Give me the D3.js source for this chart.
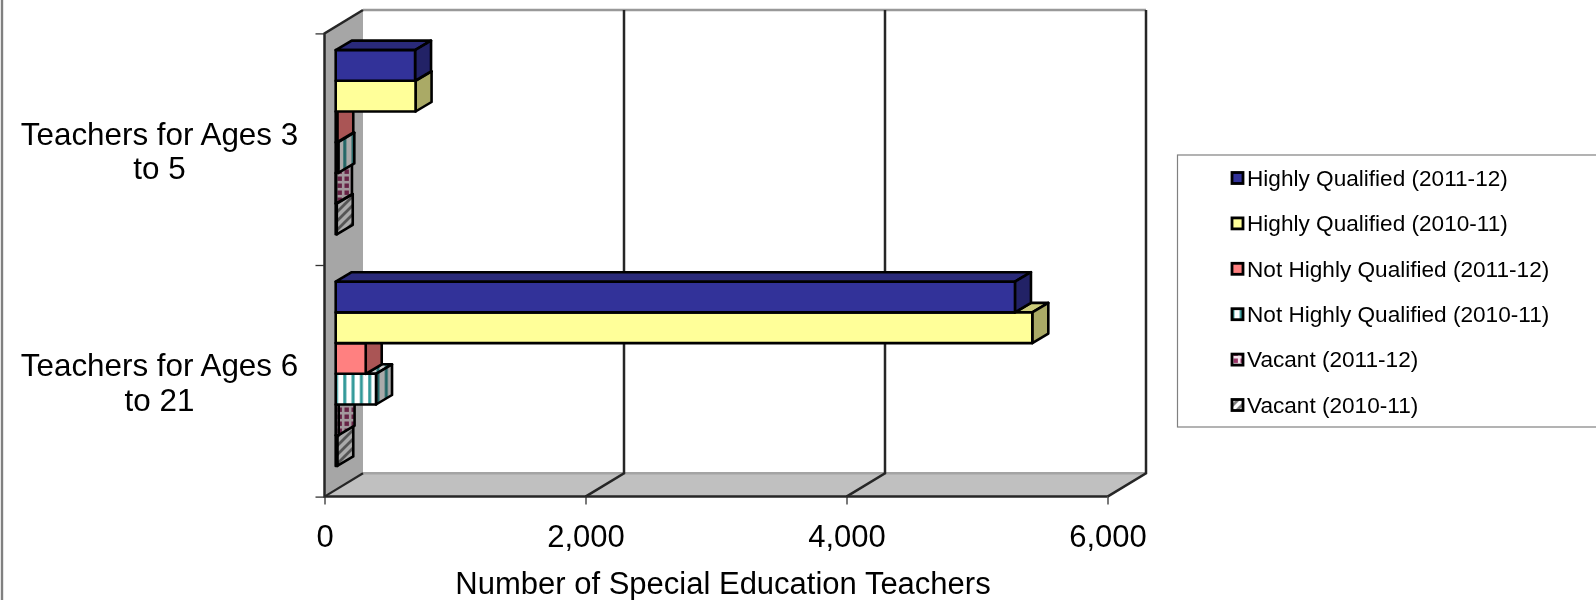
<!DOCTYPE html>
<html><head><meta charset="utf-8">
<script src="https://cdn.jsdelivr.net/npm/d3@7"></script>
<style>html,body{margin:0;padding:0;background:#fff;overflow:hidden}svg{display:block}text{font-family:"Liberation Sans",Arial,sans-serif;fill:#000}</style>
</head><body><svg id="c" width="1596" height="600"></svg>
<script>
const categories = ["Teachers for Ages 3 to 5", "Teachers for Ages 6 to 21"];
const categoryLines = [["Teachers for Ages 3", "to 5"], ["Teachers for Ages 6", "to 21"]];
const seriesNames = ["Highly Qualified (2011-12)", "Highly Qualified (2010-11)", "Not Highly Qualified (2011-12)", "Not Highly Qualified (2010-11)", "Vacant (2011-12)", "Vacant (2010-11)"];
const hq1112 = [608, 5205];
const hq1011 = [612, 5338];
const nhq1112 = [12, 230];
const nhq1011 = [20, 309];
const vac1112 = [2, 22];
const vac1011 = [8, 12];
const seriesValues = [hq1112, hq1011, nhq1112, nhq1011, vac1112, vac1011];
const valueTicks = [0, 2000, 4000, 6000];
const axisTitle = "Number of Special Education Teachers";

const svg = d3.select("#c");
const defs = svg.append("defs");
defs.append("filter").attr("id","soft").attr("x","-2%").attr("y","-2%").attr("width","104%").attr("height","104%")
  .append("feGaussianBlur").attr("stdDeviation",0.45);

// layout of the 3D box
const wallDX = 38.5, wallDY = -23.4;
const barDX = 16, barDY = -9.5, barOffX = 11.2, barOffY = -7;
const x = d3.scaleLinear().domain([0, 6000]).range([324.5, 1107.5]);
const yCat = d3.scaleBand().domain(categories).range([33.4, 496.6]);
const ySer = d3.scaleBand().domain(seriesNames).range([23.7, 207.9]);

// patterns
function pat(id, w, h, bg, draw) {
  const p = defs.append("pattern").attr("id", id).attr("patternUnits","userSpaceOnUse").attr("width",w).attr("height",h);
  p.append("rect").attr("width",w).attr("height",h).attr("fill",bg);
  draw(p);
}
[["", 1], ["Side", 2/3], ["Top", 0.8]].forEach(([suf, k]) => {
  const c = v => { const r = d3.rgb(v); return d3.rgb(r.r*k, r.g*k, r.b*k).formatHex(); };
  pat("teal"+suf, 8.3, 8, c("#ffffff"), p => p.append("rect").attr("x",3).attr("width",3).attr("height",8).attr("fill",c("#339999")));
  pat("purple"+suf, 7, 7, c("#f4e4ec"), p => p.append("rect").attr("x",1.5).attr("y",1.5).attr("width",4.4).attr("height",4.4).attr("fill",c("#993366")));
  pat("hatch"+suf, 9, 9, c("#ffffff"), p => p.append("path").attr("d","M-2,2L2,-2M-2,11L11,-2M7,11L11,7").attr("stroke",c("#808080")).attr("stroke-width",2.8));
});
const faces = [
  {front:"#333399", side:"#222266", top:"#29297a"},
  {front:"#FFFF99", side:"#AAAA66", top:"#CCCC7a"},
  {front:"#FF8080", side:"#AA5555", top:"#CC6666"},
  {front:"url(#teal)", side:"url(#tealSide)", top:"url(#tealTop)"},
  {front:"url(#purple)", side:"url(#purpleSide)", top:"url(#purpleTop)"},
  {front:"url(#hatch)", side:"url(#hatchSide)", top:"url(#hatchTop)"}
];

const g = svg.append("g").attr("filter","url(#soft)");

// outer frame
g.append("line").attr("x1",2).attr("x2",2).attr("y1",0).attr("y2",600).attr("stroke","#808080").attr("stroke-width",2.4);

// walls
const yBottom = yCat.range()[1], yTop = yCat.range()[0];
const x0 = x(0), x1 = x(6000);
const poly = pts => "M" + pts.map(p => p.join(",")).join("L") + "Z";
g.append("path").attr("d", poly([[x0+wallDX,yTop+wallDY],[x1+wallDX,yTop+wallDY],[x1+wallDX,yBottom+wallDY],[x0+wallDX,yBottom+wallDY]])).attr("fill","#fff");
g.append("path").attr("d", poly([[x0,yBottom],[x1,yBottom],[x1+wallDX,yBottom+wallDY],[x0+wallDX,yBottom+wallDY]])).attr("fill","#C0C0C0");
g.append("path").attr("d", poly([[x0,yTop],[x0+wallDX,yTop+wallDY],[x0+wallDX,yBottom+wallDY],[x0,yBottom]])).attr("fill","#A6A6A6");
g.append("line").attr("x1",x0+wallDX).attr("x2",x1+wallDX).attr("y1",yTop+wallDY).attr("y2",yTop+wallDY).attr("stroke","#999").attr("stroke-width",2.6);
g.append("line").attr("x1",x0+wallDX).attr("x2",x1+wallDX).attr("y1",yBottom+wallDY).attr("y2",yBottom+wallDY).attr("stroke","#a4a4a4").attr("stroke-width",2.4);
// gridlines across back wall and floor
valueTicks.slice(1).forEach(v => {
  g.append("path").attr("fill","none").attr("stroke","#262626").attr("stroke-width",2.5)
   .attr("d", `M${x(v)},${yBottom}L${x(v)+wallDX},${yBottom+wallDY}L${x(v)+wallDX},${yTop+wallDY}`);
});
g.append("path").attr("fill","none").attr("stroke","#262626").attr("stroke-width",2.2)
 .attr("d", `M${x0},${yBottom}L${x0+wallDX},${yBottom+wallDY}`);
g.append("path").attr("fill","none").attr("stroke","#262626").attr("stroke-width",2.5)
 .attr("d", `M${x0+wallDX},${yTop+wallDY}L${x0},${yTop}L${x0},${yBottom}L${x1},${yBottom}`);

// axes
const axB = g.append("g").attr("transform",`translate(0,${yBottom})`)
  .call(d3.axisBottom(x).tickValues(valueTicks).tickFormat(d3.format(",")).tickSize(8).tickPadding(20));
axB.select(".domain").remove();
axB.selectAll("line").attr("stroke","#333").attr("stroke-width",1.3);
axB.selectAll("text").style("font-family",'"Liberation Sans",Arial,sans-serif').style("font-size","31px").attr("fill","#000");
const axL = g.append("g").attr("transform",`translate(${x0},0)`)
  .call(d3.axisLeft(d3.scalePoint().domain([0,1,2]).range([yTop,yBottom])).tickSize(9).tickFormat(""));
axL.select(".domain").remove();
axL.selectAll("line").attr("stroke","#333").attr("stroke-width",1.3);

// category labels
categories.forEach((c, i) => {
  const t = g.append("text").attr("text-anchor","middle").attr("font-size",31.4)
    .attr("x",159.5).attr("y", yCat(c) + yCat.bandwidth()/2 - 4.5);
  categoryLines[i].forEach((l, j) => t.append("tspan").attr("x",159.5).attr("dy", j ? 34.5 : 0).text(l));
});

// bars: bottom series first so upper bars occlude lower ones
categories.forEach((c, ci) => {
  const group = g.append("g");
  d3.range(seriesNames.length - 1, -1, -1).forEach(si => {
    const name = seriesNames[si], v = seriesValues[si][ci];
    const xa = x(0) + barOffX, xb = x(v) + barOffX;
    const ya = yCat(c) + ySer(name) + barOffY, yb = ya + ySer.bandwidth();
    const prevEnd = si > 0 ? x(seriesValues[si-1][ci]) + barOffX : xa;
    const bar = group.append("g").attr("stroke","#000").attr("stroke-width",2.6).attr("stroke-linejoin","round");
    const f = faces[si];
    if (prevEnd < xb) {
      bar.append("path").attr("fill",f.top).attr("d", poly([[prevEnd,ya],[xb,ya],[xb+barDX,ya+barDY],[prevEnd+barDX,ya+barDY]]));
    }
    bar.append("path").attr("fill",f.side).attr("d", poly([[xb,ya],[xb+barDX,ya+barDY],[xb+barDX,yb+barDY],[xb,yb]]));
    bar.append("rect").attr("x",xa).attr("y",ya).attr("width",xb-xa).attr("height",yb-ya).attr("fill",f.front);
  });
});

// axis title
g.append("text").attr("text-anchor","middle").attr("x",723).attr("y",594).attr("font-size",31).text(axisTitle);

// legend
g.append("rect").attr("x",1177.5).attr("y",155).attr("width",440).attr("height",272).attr("fill","#fff").attr("stroke","#808080").attr("stroke-width",1.2);
const legY = d3.scalePoint().domain(seriesNames).range([178, 405]);
seriesNames.forEach((n, i) => {
  g.append("rect").attr("x",1232).attr("y",legY(n)-5.5).attr("width",11).attr("height",11).attr("fill",faces[i].front).attr("stroke","#000").attr("stroke-width",2.8);
  g.append("text").attr("x",1247).attr("y",legY(n)+7.8).attr("font-size",22.6).text(n);
});
</script></body></html>
